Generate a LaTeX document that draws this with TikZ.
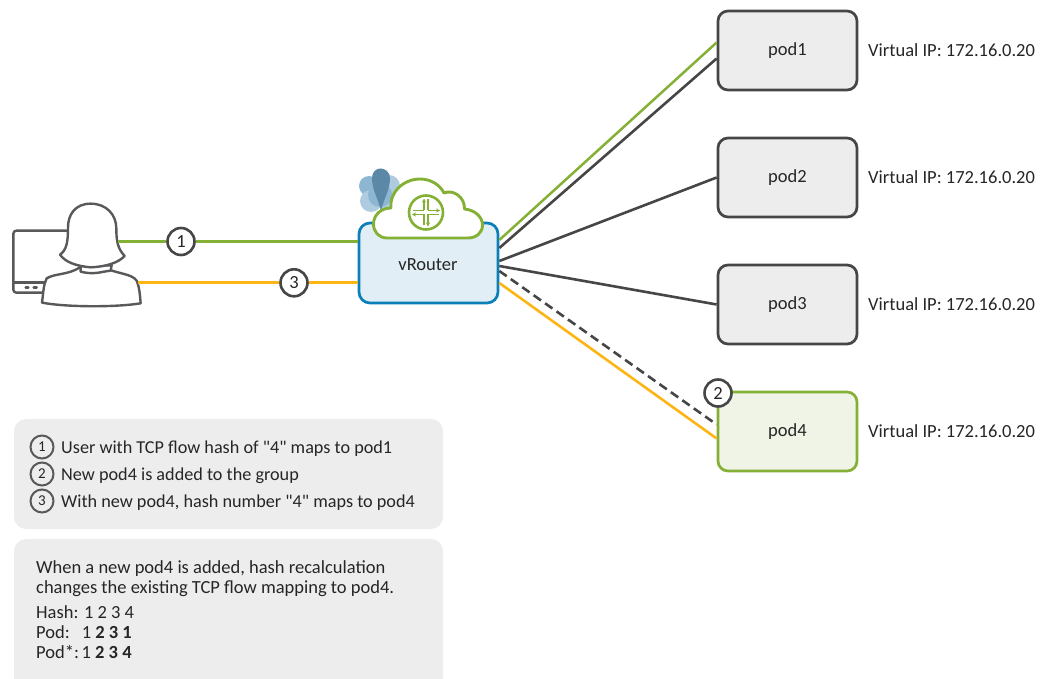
\documentclass[tikz,border=0pt]{standalone}
\usepackage{fontspec}
\newfontfamily\diagfont{Carlito}
\usetikzlibrary{calc,arrows.meta}
\definecolor{jgreen}{HTML}{84B135}
\definecolor{jorange}{HTML}{FDB515}
\definecolor{jdark}{HTML}{464646}
\definecolor{jblue}{HTML}{0A7FB8}
\definecolor{jbluefill}{HTML}{E2EEF5}
\definecolor{jgrey}{HTML}{EDEDED}
\definecolor{jgreenfill}{HTML}{F0F4E6}
\definecolor{jicon}{HTML}{58595B}
\definecolor{jpetalA}{HTML}{AECBDF}
\definecolor{jpetalB}{HTML}{8DB6D2}
\definecolor{jdrop}{HTML}{5C88A8}
\tikzset{
  every node/.style={font=\diagfont\fontsize{18.5}{21}\selectfont, text=black!85},
  podbox/.style={draw=jdark,fill=jgrey,line width=2.7pt,rounded corners=10pt,minimum width=139pt,minimum height=79pt,inner sep=0},
  newpod/.style={podbox,draw=jgreen,fill=jgreenfill},
  routerbox/.style={draw=jblue,fill=jbluefill,line width=2.7pt,rounded corners=11pt,minimum width=139pt,minimum height=80pt,inner sep=0},
  vip/.style={anchor=west,inner sep=0},
  badge/.style={circle,draw=jdark,fill=white,line width=2.6pt,minimum size=27pt,inner sep=0},
  smallbadge/.style={circle,draw=jicon,fill=none,line width=2pt,minimum size=23pt,inner sep=0,font=\diagfont\fontsize{15}{18}\selectfont},
  panel/.style={fill=jgrey,rounded corners=12pt},
  txt/.style={anchor=base west,inner sep=0},
  legendtxt/.style={txt,font=\diagfont\fontsize{18.2}{21}\selectfont},
  greenline/.style={jgreen,line width=2.5pt},
  orangeline/.style={jorange,line width=2.6pt},
  darkline/.style={jdark,line width=2.6pt},
  iconline/.style={draw=jicon,line width=2.4pt,line join=round,line cap=round},
  cloudline/.style={draw=jgreen,line width=2.9pt,line join=round},
  crossline/.style={jgreen,line width=1.2pt,-{Stealth[length=4pt,width=4pt]}},
}
\begin{document}
\begin{tikzpicture}[x=1pt,y=-1pt]
\useasboundingbox (0,0) rectangle (1042,679);
\clip (0,0) rectangle (1042,679);

% legend panels
\fill[panel] (14,419) rectangle (443,529);
\fill[panel] (14,539) rectangle (443,695);

% pods
\node[podbox] (pod1) at (787.5,50.5) {pod1};
\node[podbox] (pod2) at (787.5,177.5) {pod2};
\node[podbox] (pod3) at (787.5,304.5) {pod3};
\node[newpod] (pod4) at (787.5,431.5) {pod4};
\node[vip] (vip1) at (868,50) {Virtual IP: 172.16.0.20};
\node[vip] (vip2) at (868,177) {Virtual IP: 172.16.0.20};
\node[vip] (vip3) at (868,304) {Virtual IP: 172.16.0.20};
\node[vip] (vip4) at (868,431) {Virtual IP: 172.16.0.20};

% vRouter
\node[routerbox] (vr) at (428.5,263) {};
\node[inner sep=0] (vrlabel) at (428,265) {vRouter};

% vrouter back flower
\fill[jpetalA] (389,186) circle (11);
\fill[jpetalA] (389,200) circle (12);
\fill[jpetalB] (369,186) circle (10);
\fill[jpetalA] (371,201) circle (11);
\fill[jpetalB] (380,195) circle (12);
\fill[jdrop] (381,211) .. controls (378,198) and (372,190) .. (372,178)
   .. controls (372,172) and (376,168.5) .. (380.5,168.5)
   .. controls (385,168.5) and (390,172) .. (390,178)
   .. controls (390,190) and (384,198) .. (381,211) -- cycle;

% cloud
\draw[cloudline,fill=white] (387,238) .. controls (379,238) and (373.5,232) .. (373.5,224)
   .. controls (373.5,215) and (381,208) .. (391,208)
   .. controls (389,193) and (403,179) .. (420,179)
   .. controls (431,179) and (440,185) .. (444,193)
   .. controls (453,189) and (465,197) .. (464.5,209)
   .. controls (475,210) and (482.5,217) .. (482.5,225)
   .. controls (482.5,233) and (476,238) .. (468,238) -- cycle;
\node[draw=jgreen,line width=2.6pt,circle,minimum size=34pt,inner sep=0,fill=white] (rt) at (426,212.5) {};
\draw[crossline] ($(rt.center)+(-2,-2)$) -- ($(rt.center)+(-2,-14)$);
\draw[crossline] ($(rt.center)+(2,-2)$) -- ($(rt.center)+(14,-2)$);
\draw[crossline] ($(rt.center)+(2,2)$) -- ($(rt.center)+(2,14)$);
\draw[crossline] ($(rt.center)+(-2,2)$) -- ($(rt.center)+(-14,2)$);
\draw[jgreen,line width=1.2pt] ($(rt.center)+(2,-2)$) -- ($(rt.center)+(2,-13)$);
\draw[jgreen,line width=1.2pt] ($(rt.center)+(-2,-2)$) -- ($(rt.center)+(-13,-2)$);
\draw[jgreen,line width=1.2pt] ($(rt.center)+(2,2)$) -- ($(rt.center)+(13,2)$);
\draw[jgreen,line width=1.2pt] ($(rt.center)+(-2,2)$) -- ($(rt.center)+(-2,13)$);

% user icon
\begin{scope}[shift={(0,160)},x=0.3333pt,y=-0.3333pt]
  \draw[iconline,fill=white,rounded corners=3pt] (205,212) -- (40,212) -- (40,398) -- (135,398);
  \draw[iconline] (40,368) -- (140,368);
  \draw[iconline] (77,383) -- (85,383) (101,383) -- (110,383);
  \draw[iconline,fill=white] (240,322) .. controls (205,345) and (165,340) .. (140,355)
     .. controls (130,375) and (130,400) .. (126,428)
     .. controls (200,442) and (350,442) .. (422,430)
     .. controls (420,405) and (418,380) .. (410,362)
     .. controls (395,340) and (350,342) .. (312,322) -- cycle;
  \draw[iconline,fill=white] (242,318) -- (242,335) .. controls (270,342) and (290,340) .. (312,335) -- (332,332) -- (335,316) -- cycle;
  \draw[iconline,fill=white] (272,131) .. controls (225,131) and (203,165) .. (204,205)
     .. controls (204,245) and (200,270) .. (180,284)
     .. controls (195,305) and (225,318) .. (272,322)
     .. controls (320,320) and (355,308) .. (374,288)
     .. controls (352,265) and (349,240) .. (349,205)
     .. controls (349,165) and (320,131) .. (272,131) -- cycle;
\end{scope}
\coordinate (ugreen) at (118,241.5);
\coordinate (uorange) at (138,282.8);

% connectors
\node[badge] (b1) at (181,241.5) {1};
\node[badge] (b3) at (294,282.8) {3};
\coordinate (vrg) at (358,241.5);
\coordinate (vro) at (358,282.8);
\draw[greenline] (ugreen) -- (b1);
\draw[greenline] (b1) -- (vrg);
\draw[orangeline] (uorange) -- (b3);
\draw[orangeline] (b3) -- (vro);

\draw[greenline] ([yshift=23pt]vr.east) -- ([yshift=8pt]pod1.west);
\draw[darkline] ([yshift=15pt]vr.east) -- ([yshift=-8pt]pod1.west);
\draw[darkline] ([yshift=2pt]vr.east) -- (pod2.west);
\draw[darkline] ([yshift=-3pt]vr.east) -- (pod3.west);
\draw[darkline,dash pattern=on 9pt off 5pt] ([yshift=-8pt]vr.east) -- ([yshift=7pt]pod4.west);
\draw[orangeline] ([yshift=-20pt]vr.east) -- ([yshift=-7pt]pod4.west);

\node[badge,fill=white] (b2) at (718,393) {2};

% legend
\node[smallbadge] (l1) at (42,447) {1};
\node[smallbadge] (l2) at (42,474) {2};
\node[smallbadge] (l3) at (42,501) {3};
\node[legendtxt] (t1) at (61,453) {User with TCP flow hash of "4" maps to pod1};
\node[legendtxt] (t2) at (61,480) {New pod4 is added to the group};
\node[legendtxt] (t3) at (61,507) {With new pod4, hash number "4" maps to pod4};

\node[txt] (d1) at (36,573) {When a new pod4 is added, hash recalculation};
\node[txt] (d2) at (36,593) {changes the existing TCP flow mapping to pod4.};
\node[txt] (h1) at (36,618) {Hash: 1 2 3 4};
\node[txt] (h2) at (36,638) {Pod:\hspace{12pt}1 \textbf{2 3 1}};
\node[txt] (h3) at (36,658) {Pod*:\hspace{-3pt} 1 \textbf{2 3 4}};
\end{tikzpicture}
\end{document}
